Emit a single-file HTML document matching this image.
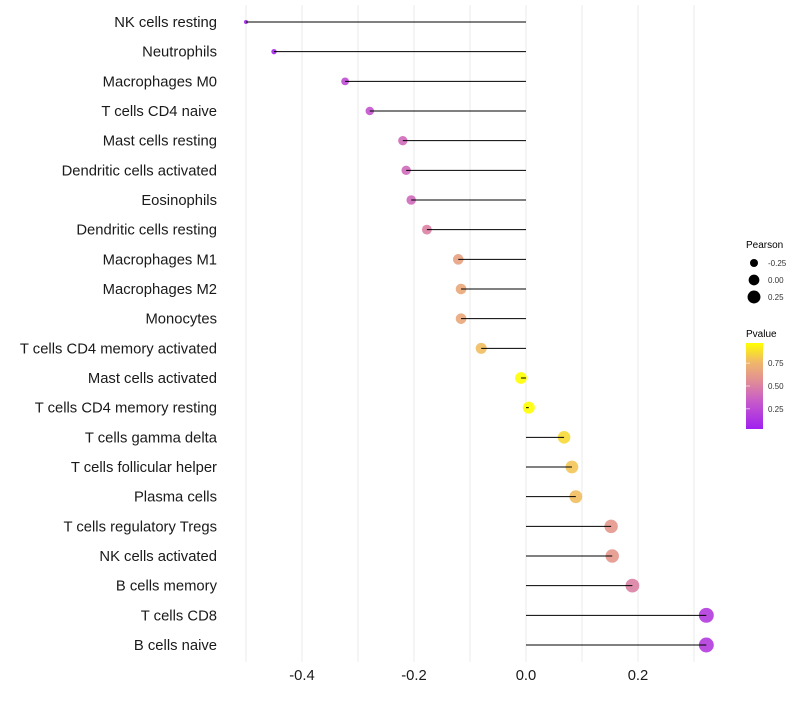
<!DOCTYPE html>
<html><head><meta charset="utf-8"><style>
body{margin:0;background:#fff;font-family:"Liberation Sans",sans-serif}
</style></head><body>
<svg id="chart" width="800" height="700" xmlns="http://www.w3.org/2000/svg">
<g id="grid"></g><g id="marks"></g><g id="ylabels"></g><g id="xlabels"></g>
<g id="legend" font-family="Liberation Sans, sans-serif">
<text x="746" y="248" font-size="10" fill="#000">Pearson</text>
<g id="sizeLegend"></g>
<text x="746" y="337" font-size="10" fill="#000">Pvalue</text>
<defs><linearGradient id="pg" x1="0" y1="1" x2="0" y2="0">
<stop offset="0" stop-color="#a020f0"/><stop offset="0.33" stop-color="#c85cc8"/><stop offset="0.55" stop-color="#e08c98"/><stop offset="0.78" stop-color="#f0b868"/><stop offset="1" stop-color="#ffff00"/></linearGradient></defs>
<rect x="746" y="343" width="17" height="86" fill="url(#pg)"/>
<g id="cbTicks"></g>
</g>
</svg>
<script>
const categories=["NK cells resting","Neutrophils","Macrophages M0","T cells CD4 naive","Mast cells resting","Dendritic cells activated","Eosinophils","Dendritic cells resting","Macrophages M1","Macrophages M2","Monocytes","T cells CD4 memory activated","Mast cells activated","T cells CD4 memory resting","T cells gamma delta","T cells follicular helper","Plasma cells","T cells regulatory  Tregs ","NK cells activated","B cells memory","T cells CD8","B cells naive"];
const pearson=[-0.50,-0.45,-0.323,-0.279,-0.22,-0.214,-0.205,-0.177,-0.121,-0.116,-0.116,-0.080,-0.009,0.005,0.068,0.082,0.089,0.152,0.154,0.19,0.322,0.322];
const pvalue=[0.04,0.06,0.25,0.3,0.4,0.4,0.4,0.5,0.65,0.68,0.68,0.78,0.97,0.98,0.86,0.8,0.78,0.6,0.6,0.5,0.17,0.17];
const xTicks=[-0.4,-0.2,0.0,0.2];
const xTickLabels=["-0.4","-0.2","0.0","0.2"];
const gridVals=[-0.5,-0.4,-0.3,-0.2,-0.1,0,0.1,0.2,0.3];
const sizeLegendVals=[-0.25,0,0.25];
const sizeLegendLabels=["-0.25","0.00","0.25"];
const cbTickVals=[0.25,0.5,0.75];
const cbTickLabels=["0.25","0.50","0.75"];
const NS="http://www.w3.org/2000/svg";
const x=v=>526+560*v;
const y=i=>22+i*(623/21);
const r=v=>Math.sqrt(Math.max(2.25,4+63*(v+0.5)));
const stops=[[0,[160,32,240]],[0.33,[200,92,200]],[0.55,[224,140,152]],[0.78,[240,184,104]],[1,[255,255,0]]];
function col(p){const t=Math.min(1,Math.max(0,(p-0.03)/0.94));for(let k=1;k<stops.length;k++){if(t<=stops[k][0]){const a=stops[k-1],b=stops[k],f=(t-a[0])/(b[0]-a[0]);return "rgb("+a[1].map((c,j)=>Math.round(c+(b[1][j]-c)*f)).join(",")+")";}}return "rgb(255,255,0)";}
function mk(tag,attrs,parent){const e=document.createElementNS(NS,tag);for(const k in attrs)e.setAttribute(k,attrs[k]);parent.appendChild(e);return e;}
const G=document.getElementById('grid'),M=document.getElementById('marks'),YL=document.getElementById('ylabels'),XL=document.getElementById('xlabels');
gridVals.forEach(v=>{const l=mk('line',{x1:x(v),x2:x(v),y1:5,y2:662,stroke:'#ebebeb','stroke-width':1},G);

});
categories.forEach((c,i)=>{
const cy=y(i);
const pt=mk('circle',{cx:x(pearson[i]),cy:cy,r:r(pearson[i]),fill:col(pvalue[i]),'fill-opacity':0.9},M);


const ln=mk('line',{x1:x(0),x2:x(pearson[i]),y1:cy,y2:cy,stroke:'#000','stroke-width':1},M);


const t=mk('text',{x:217,y:cy+5,'text-anchor':'end','font-size':14.8,fill:'#1a1a1a'},YL);
t.textContent=c;


});
xTicks.forEach((v,i)=>{const t=mk('text',{x:x(v),y:680,'text-anchor':'middle','font-size':14.8,fill:'#1a1a1a'},XL);
t.textContent=xTickLabels[i];

});
const SL=document.getElementById('sizeLegend');
sizeLegendVals.forEach((v,i)=>{const cy=263+i*17;
const c=mk('circle',{cx:754,cy:cy,r:r(v)*0.9,fill:'#000'},SL);


const t=mk('text',{x:768,y:cy+3,'font-size':8,fill:'#333'},SL);t.textContent=sizeLegendLabels[i];

});
const CB=document.getElementById('cbTicks');
cbTickVals.forEach((v,i)=>{const cy=429-(v-0.03)/0.94*86;
const l=mk('line',{x1:746,x2:750,y1:cy,y2:cy,stroke:'#fff','stroke-width':0.6},CB);


const t=mk('text',{x:768,y:cy+3,'font-size':8,fill:'#333'},CB);t.textContent=cbTickLabels[i];

});
</script>
</body></html>
